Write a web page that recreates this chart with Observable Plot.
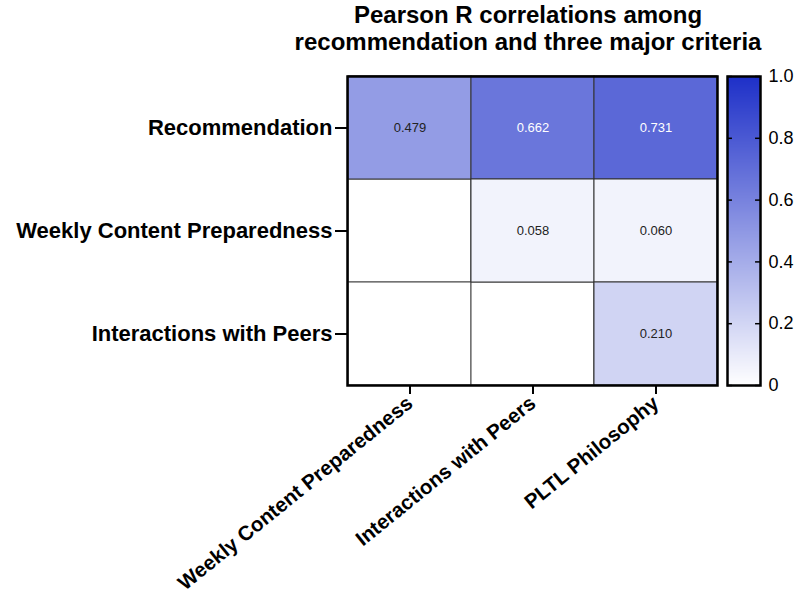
<!DOCTYPE html>
<html>
<head>
<meta charset="utf-8">
<script src="https://cdn.jsdelivr.net/npm/d3@7"></script>
<script src="https://cdn.jsdelivr.net/npm/@observablehq/plot@0.6"></script>
<style>
  html, body { margin: 0; padding: 0; background: white; }
  #wrap { position: relative; width: 799px; height: 599px; overflow: hidden; font-family: "Liberation Sans", Arial, sans-serif; }
  #title { position: absolute; left: 257px; top: 1px; width: 542px; height: 60px; text-align: center; font-weight: bold; font-size: 24px; line-height: 27px; color: #000; }
  #main { position: absolute; left: 0; top: 60px; }
  #legend { position: absolute; left: 700px; top: 60px; }
</style>
</head>
<body>
<div id="wrap">
  <div id="title">Pearson R correlations among<br>recommendation and three major criteria</div>
  <div id="main"></div>
  <div id="legend"></div>
</div>
<script>
const rows = ["Recommendation", "Weekly Content Preparedness", "Interactions with Peers"];
const cols = ["Weekly Content Preparedness", "Interactions with Peers", "PLTL Philosophy"];
const recommendationValues = [0.479, 0.662, 0.731];
const weeklyPreparednessValues = [null, 0.058, 0.060];
const interactionsValues = [null, null, 0.210];
const legendTicks = [0, 0.2, 0.4, 0.6, 0.8, 1.0];

const rowValues = [recommendationValues, weeklyPreparednessValues, interactionsValues];
const grid = [];
rows.forEach((r, i) => cols.forEach((c, j) => grid.push({row: r, col: c, value: rowValues[i][j]})));
const filled = grid.filter(d => d.value != null);

const colorScale = {type: "linear", domain: [0, 1], range: ["#ffffff", "#1e30c8"], interpolate: "rgb"};
const font = "'Liberation Sans', Arial, sans-serif";

const main = Plot.plot({
  width: 799,
  height: 539,
  marginLeft: 347,
  marginRight: 82,
  marginTop: 16,
  marginBottom: 214,
  style: {fontFamily: font, color: "#000", background: "transparent", overflow: "visible"},
  x: {type: "band", domain: cols, padding: 0, label: null},
  y: {type: "band", domain: rows, padding: 0, label: null},
  color: colorScale,
  marks: [
    Plot.cell(grid, {x: "col", y: "row", fill: "white", stroke: "#444", strokeWidth: 1, inset: 0}),
    Plot.cell(filled, {x: "col", y: "row", fill: "value", stroke: "#333", strokeWidth: 1, inset: 0}),
    Plot.text(filled, {x: "col", y: "row", text: d => d.value.toFixed(3), fill: d => d.value > 0.6 ? "white" : "#222", fontSize: 13}),
    Plot.frame({stroke: "#000", strokeWidth: 2.5}),
    Plot.axisY({anchor: "left", tickSize: 12, tickPadding: 3, strokeWidth: 2, fontSize: 22, fontWeight: "bold", label: null}),
    Plot.axisX({anchor: "bottom", tickSize: 9, tickPadding: 6, strokeWidth: 2, tickRotate: -39, fontSize: 20.5, fontWeight: "bold", label: null})
  ]
});
document.getElementById("main").appendChild(main);

const legend = Plot.plot({
  width: 99,
  height: 539,
  marginLeft: 27,
  marginRight: 39,
  marginTop: 16,
  marginBottom: 214,
  style: {fontFamily: font, color: "#000", background: "transparent", overflow: "visible"},
  x: {domain: [0, 1], axis: null},
  y: {domain: [0, 1], label: null},
  color: colorScale,
  marks: [
    Plot.raster({x1: 0, x2: 1, y1: 0, y2: 1, width: 1, height: 310, fill: (x, y) => y, interpolate: "none"}),
    Plot.ruleY(legendTicks, {x1: 0, x2: 0.15, stroke: "#000", strokeWidth: 1.5}),
    Plot.ruleY(legendTicks, {x1: 0.85, x2: 1, stroke: "#000", strokeWidth: 1.5}),
    Plot.frame({stroke: "#000", strokeWidth: 2.5}),
    Plot.axisY(legendTicks, {anchor: "right", tickSize: 0, tickPadding: 8, fontSize: 18, tickFormat: d => d === 0 ? "0" : d.toFixed(1), label: null})
  ]
});
document.getElementById("legend").appendChild(legend);
</script>
</body>
</html>
